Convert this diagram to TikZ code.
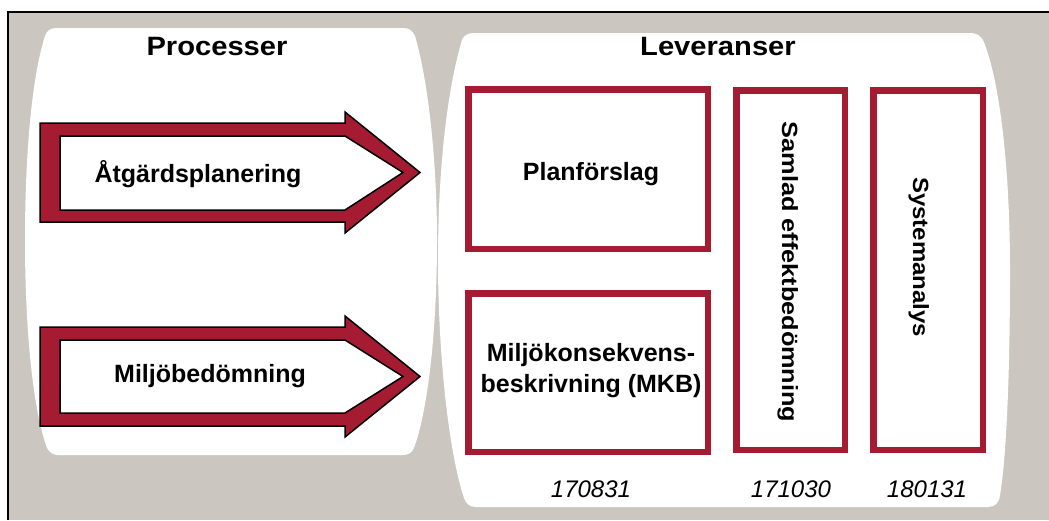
\documentclass[tikz,border=0pt]{standalone}
\usepackage{fontspec}
\setmainfont{Liberation Sans}
\usepackage{graphicx}
\definecolor{panelgray}{HTML}{CBC7C0}
\definecolor{brick}{HTML}{A51B32}
\tikzset{
  panel/.style={fill=white},
  flowarrow/.style={fill=brick, draw=black, line width=1.5pt, even odd rule, line join=miter},
  delbox/.style={draw=brick, fill=white, line width=6.5pt, inner sep=0pt},
  txt/.style={inner sep=0pt, font=\fontsize{25}{31}\selectfont\bfseries},
  heading/.style={inner sep=0pt, anchor=base, font=\fontsize{26.5}{31}\selectfont\bfseries},
  vtxt/.style={inner sep=0pt, anchor=base, rotate=-90, font=\fontsize{22}{26}\selectfont\bfseries},
  datetxt/.style={inner sep=0pt, anchor=base, font=\fontsize{24}{28}\selectfont\itshape}
}
\begin{document}
\begin{tikzpicture}[x=1pt,y=-1pt]
\useasboundingbox (0,0) rectangle (1049,520);
% background and frame
\fill[white] (0,0) rectangle (1049,520);
\fill[panelgray] (8,12) rectangle (1049,520);
\draw[line width=1.3pt] (8,520) -- (8,12) -- (1049,12);

% left panel (processes)
\fill[panel] (57,28) -- (403,28) .. controls (409,28) and (412,30) .. (415,36)
  .. controls (428,80) and (437,160) .. (437,240)
  .. controls (437,330) and (428,410) .. (414,448)
  .. controls (412,453) and (408,455) .. (403,455)
  -- (58,455) .. controls (53,455) and (50,453) .. (47,448)
  .. controls (33,410) and (25,330) .. (25,240)
  .. controls (25,160) and (31,80) .. (45,36)
  .. controls (47,30) and (51,28) .. (57,28) -- cycle;

% right panel (deliverables)
\fill[panel] (474,33) -- (970,33) .. controls (976,33) and (980,35) .. (983,40)
  .. controls (1000,80) and (1010,170) .. (1010,270)
  .. controls (1010,380) and (1006,460) .. (1000,495)
  .. controls (999,503) and (995,507) .. (988,507)
  -- (476,507) .. controls (470,507) and (466,504) .. (464,498)
  .. controls (448,450) and (438,350) .. (438,260)
  .. controls (438,170) and (447,90) .. (462,40)
  .. controls (464,35) and (468,33) .. (474,33) -- cycle;

% headings
\node[heading] (proc) at (217,55) {\scalebox{1.1}[1]{Processer}};
\node[heading] (lev) at (718,55) {\scalebox{1.1}[1]{Leveranser}};

% hollow process arrows
\filldraw[flowarrow]
  (40,123) -- (345,123) -- (345,112) -- (420,172.5) -- (345,233) -- (345,222) -- (40,222) -- cycle
  (60,136) -- (345,136) -- (403,172.5) -- (345,210) -- (60,210) -- cycle;
\filldraw[flowarrow]
  (40,327) -- (345,327) -- (345,316) -- (420,376.5) -- (345,437) -- (345,426) -- (40,426) -- cycle
  (60,340) -- (345,340) -- (403,376.5) -- (345,413) -- (60,413) -- cycle;
\node[txt, anchor=base] (atg) at (198,182) {Åtgärdsplanering};
\node[txt, anchor=base] (mb) at (210,382) {Miljöbedömning};

% deliverable boxes
\node[delbox, minimum width=239.5pt, minimum height=159.5pt] (plan) at (588,169) {};
\node[delbox, minimum width=239.5pt, minimum height=158.5pt] (mkb) at (588,372.5) {};
\node[delbox, minimum width=108.5pt, minimum height=359.5pt] (sam) at (790.5,270) {};
\node[delbox, minimum width=109.5pt, minimum height=359.5pt] (sys) at (928,270) {};

\node[txt, anchor=base] (plantxt) at (591,180) {Planförslag};
\node[txt, align=center] (mkbtxt) at (591,371) {Miljökonsekvens-\\beskrivning (MKB)};
\node[vtxt] (samtxt) at (782,272) {\scalebox{1.15}[1]{Samlad effektbedömning}};
\node[vtxt] (systxt) at (913,257) {\scalebox{1.09}[1]{Systemanalys}};

% delivery dates
\node[datetxt] (d1) at (591,497) {170831};
\node[datetxt] (d2) at (791,497) {171030};
\node[datetxt] (d3) at (927,497) {180131};
\end{tikzpicture}
\end{document}
